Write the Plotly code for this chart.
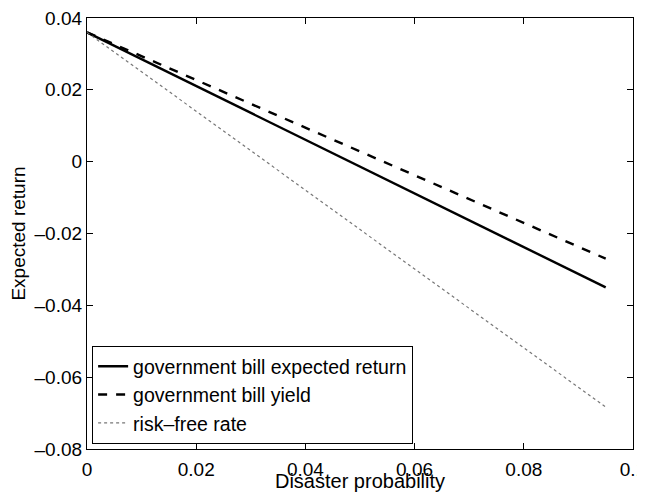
import plotly.graph_objects as go

disaster_prob = [0.0, 0.095]
gov_bill_expected_return = [0.036, -0.035]
gov_bill_yield = [0.036, -0.027]
risk_free_rate = [0.036, -0.0683]

x_ticks = [0, 0.02, 0.04, 0.06, 0.08, 0.1]
x_ticklabels = ["0", "0.02", "0.04", "0.06", "0.08", "0.1"]
y_ticks = [-0.08, -0.06, -0.04, -0.02, 0, 0.02, 0.04]
y_ticklabels = ["–0.08", "–0.06", "–0.04", "–0.02", "0", "0.02", "0.04"]

FONT = "Liberation Sans"

fig = go.Figure()
fig.add_trace(go.Scatter(x=disaster_prob, y=gov_bill_expected_return, mode="lines",
                         name="government bill expected return",
                         line=dict(color="black", width=2.4)))
fig.add_trace(go.Scatter(x=disaster_prob, y=gov_bill_yield, mode="lines",
                         name="government bill yield",
                         line=dict(color="black", width=2.4, dash="dash")))
fig.add_trace(go.Scatter(x=disaster_prob, y=risk_free_rate, mode="lines",
                         name="risk–free rate",
                         line=dict(color="#777777", width=1.2, dash="dot")))

axis_common = dict(showline=True, linecolor="black", linewidth=1.3, mirror="allticks",
                   ticks="inside", ticklen=6, tickcolor="black", showgrid=False,
                   zeroline=False, automargin=False, ticklabeloverflow="allow",
                   tickfont=dict(family=FONT, size=19, color="black"))

fig.update_xaxes(range=[0, 0.1], tickvals=x_ticks, ticktext=x_ticklabels,
                 ticklabelstandoff=3,
                 title=dict(text="Disaster probability",
                            font=dict(family=FONT, size=20, color="black")),
                 **axis_common)
fig.update_yaxes(range=[-0.08, 0.04], tickvals=y_ticks, ticktext=y_ticklabels,
                 title=dict(text="Expected return",
                            font=dict(family=FONT, size=19, color="black")),
                 **axis_common)

# the page body adds an 8 px offset; margins compensate for it
fig.update_layout(
    width=645, height=484,
    margin=dict(l=79, r=20, t=10, b=43),
    plot_bgcolor="white", paper_bgcolor="white",
    legend=dict(x=0.009, y=0.012, xanchor="left", yanchor="bottom",
                bgcolor="white", bordercolor="black", borderwidth=1.2,
                font=dict(family=FONT, size=19.5, color="black"),
                tracegroupgap=0, itemwidth=30),
)

fig.write_html("out.html")
